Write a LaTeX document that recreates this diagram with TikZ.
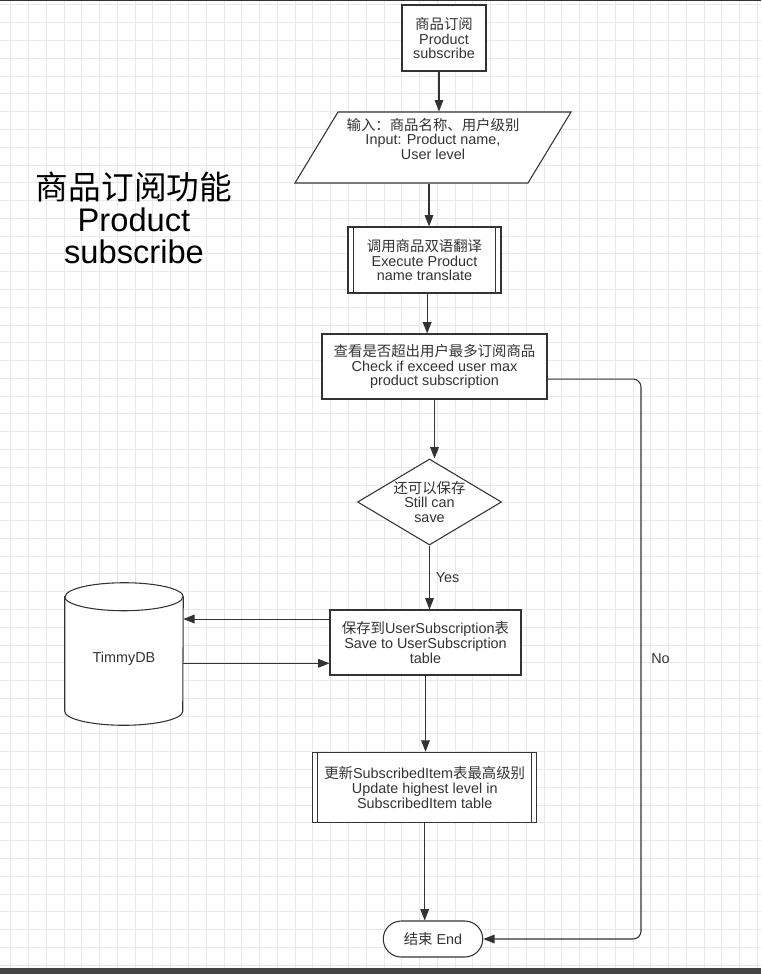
\documentclass[tikz,border=0pt]{standalone}
\usepackage{fontspec}
\setmainfont{Liberation Sans}
\newfontfamily\cjk{Noto Sans CJK SC}
\newcommand{\zhs}[1]{{\cjk #1}}
\usetikzlibrary{positioning,arrows.meta,shapes.geometric}
\definecolor{ink}{HTML}{333333}
\definecolor{gridc}{HTML}{E8E8E8}
\definecolor{barc}{HTML}{444444}
\tikzset{
  box/.style={rectangle,draw=ink,line width=0.8pt,fill=white,text=ink,align=center,inner sep=2pt,font=\fontsize{10.8}{10.9}\selectfont},
  subbox/.style={box,path picture={\draw[ink,line width=0.8pt] ([xshift=3.9pt]path picture bounding box.north west) -- ([xshift=3.9pt]path picture bounding box.south west) ([xshift=-3.9pt]path picture bounding box.north east) -- ([xshift=-3.9pt]path picture bounding box.south east);}},
  io/.style={box,trapezium,trapezium left angle=56,trapezium right angle=124,trapezium stretches body},
  dec/.style={box,diamond,aspect=1.67,inner sep=0pt},
  term/.style={box,rounded corners=13.5pt},
  edge/.style={-{Triangle[length=8.5pt,width=6.5pt]},draw=ink,line width=0.8pt},
  gridline/.style={draw=gridc,line width=0.75pt},
  lbl/.style={text=ink,font=\fontsize{10.8}{10.9}\selectfont}
}
\begin{document}
\begin{tikzpicture}[x=0.75pt,y=-0.75pt]
\fill[white] (0,0) rectangle (761,974);
\useasboundingbox (0,0) rectangle (761,974);
\draw[gridline,shift={(10.7,5)},step=13.335pt] (-10.7,969) grid (750.3,-5);
\fill[ink] (0,0) rectangle (761,1.5);
\fill[barc] (0,968) rectangle (761,974);

\node[align=center,font=\fontsize{24.5}{24}\selectfont] (title) at (134,218) {\zhs{商品订阅功能}\\Product\\subscribe};

\node[box,minimum width=63pt,minimum height=49.5pt] (b1) at (444,38) {\zhs{商品订阅}\\Product\\subscribe};
\node[io,minimum width=207pt,minimum height=53.25pt] (in) at (433,147.5) {\zhs{输入：商品名称、用户级别}\\Input: Product name,\\User level\\[2pt]};
\node[subbox,minimum width=114.75pt,minimum height=49.5pt] (b2) at (424.5,260) {\zhs{调用商品双语翻译}\\Execute Product\\name translate};
\node[box,minimum width=168.75pt,minimum height=48.75pt] (b3) at (434.5,366.5) {\zhs{查看是否超出用户最多订阅商品}\\Check if exceed user max\\product subscription};
\node[dec,minimum width=108pt,minimum height=64.5pt] (d) at (429.5,502) {\zhs{还可以保存}\\Still can\\save};
\node[box,minimum width=143.25pt,minimum height=48.75pt] (b4) at (425.5,642.5) {\zhs{保存到}UserSubscription\zhs{表}\\Save to UserSubscription\\table};
\node[subbox,minimum width=168pt,minimum height=52.9pt] (b5) at (424.7,787.5) {\zhs{更新}SubscribedItem\zhs{表最高级别}\\Update highest level in\\SubscribedItem table};
\node[term,minimum width=74.6pt,minimum height=27pt] (e) at (433,939) {\zhs{结束} End};

\node[minimum width=88.5pt,minimum height=106.5pt,inner sep=0pt] (db) at (124,654) {};
\draw[ink,line width=0.8pt,fill=white] ([yshift=-10.5pt]db.north west) -- ([yshift=10.5pt]db.south west) arc[start angle=180,end angle=360,x radius=44.25pt,y radius=10.5pt] -- ([yshift=-10.5pt]db.north east) arc[start angle=0,end angle=180,x radius=44.25pt,y radius=10.5pt] -- cycle;
\draw[ink,line width=0.8pt] ([yshift=-10.5pt]db.north west) arc[start angle=180,end angle=360,x radius=44.25pt,y radius=10.5pt];
\node[lbl] (dbl) at ([yshift=-3.75pt]db.center) {TimmyDB};

\coordinate (nox) at (641,0);

\draw[edge] ([xshift=-3.75pt]b1.south) -- ([xshift=-3.75pt]b1.south |- in.north);
\draw[edge] ([xshift=-3pt]in.south) -- ([xshift=-3pt]in.south |- b2.north);
\draw[edge] ([xshift=2pt]b2.south) -- ([xshift=2pt]b2.south |- b3.north);
\draw[edge] (b3.south) -- (b3.south |- d.north);
\draw[edge] (d.south) -- (d.south |- b4.north) node[lbl,midway,right=1pt] {Yes};
\draw[edge] ([yshift=17.6pt]b4.west) -- ([yshift=17.6pt]b4.west -| db.east);
\draw[edge] ([yshift=-15.6pt]b4.west -| db.east) -- ([yshift=-15.6pt]b4.west);
\draw[edge] (b4.south) -- (b4.south |- b5.north);
\draw[edge] (b5.south) -- (b5.south |- e.north);
\draw[edge,rounded corners=6pt] ([yshift=-9.4pt]b3.east) -| (nox |- e.east) node[lbl,pos=0.75,right=4pt] {No} -- (e.east);
\end{tikzpicture}
\end{document}
